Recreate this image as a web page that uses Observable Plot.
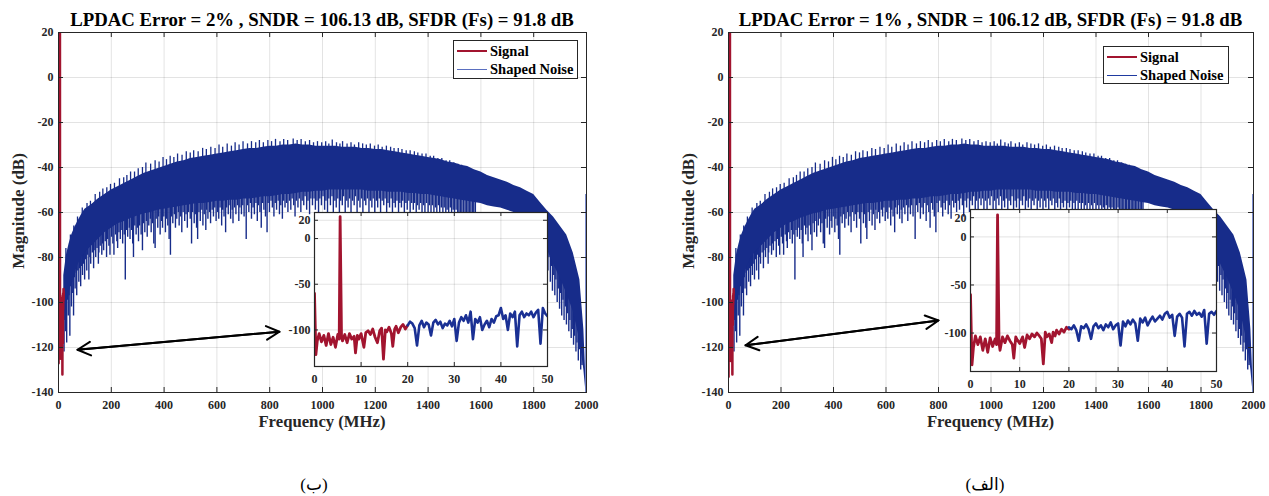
<!DOCTYPE html>
<html>
<head>
<meta charset="utf-8">
<script src="https://cdn.jsdelivr.net/npm/d3@7"></script>
<script src="https://cdn.jsdelivr.net/npm/@observablehq/plot@0.6"></script>
<style>
  body { margin: 0; background: #fff; }
  #root { position: relative; width: 1269px; height: 496px; overflow: hidden; background: #fff;
          font-family: "Liberation Serif", "Times New Roman", serif; color: #000; }
  .abs { position: absolute; white-space: nowrap; }
  .title { font-weight: bold; font-size: 18.8px; line-height: 18px; transform: translateX(-50%); }
  .xlab { font-weight: bold; font-size: 16.7px; line-height: 16px; transform: translate(-50%, -50%); color: #262626; }
  .ylab { font-weight: bold; font-size: 17px; line-height: 16px; transform: translate(-50%, -50%) rotate(-90deg); color: #262626; }
  .cap { font-size: 17px; line-height: 18px; transform: translate(-50%, -50%);
         font-family: "Liberation Serif", "DejaVu Sans", serif; }
  .legend { background: #fff; border: 1px solid #262626; box-sizing: border-box; }
  .lrow { position: absolute; left: 3px; height: 16px; display: flex; align-items: center;
          font-weight: bold; font-size: 14.5px; }
  .lline { width: 30px; margin-right: 3px; }
</style>
</head>
<body>
<div id="root"></div>
<script>
// ---------------- data ----------------
const RED = "#a2142f";
const BLUE = "#172c8a";

const xTicksMain = [0, 200, 400, 600, 800, 1000, 1200, 1400, 1600, 1800, 2000];
const yTicksMain = [20, 0, -20, -40, -60, -80, -100, -120, -140];
const xTicksInset = [0, 10, 20, 30, 40, 50];
const yTicksInset = [20, 0, -50, -100];

// shaped-noise band of the main spectrum (MHz, dB): top and bottom of the dense trace
const noiseFreq = [20,30,40,50,62,75,87,100,125,150,175,200,225,250,275,300,325,350,375,400,425,450,475,500,525,550,575,600,625,650,675,700,725,750,775,800,825,850,875,900,925,950,975,1000,1025,1050,1075,1100,1125,1150,1175,1200,1225,1250,1275,1300,1325,1350,1375,1400,1425,1450,1475,1500,1525,1550,1575,1600,1625,1650,1675,1700,1725,1750,1775,1800,1825,1850,1875,1900,1925,1950,1975,1990,1998];
const noiseTop = [-88,-79,-74,-70,-66.5,-63.5,-61,-58.5,-56.5,-54,-52,-50,-48.5,-47,-45.5,-44,-42.5,-41.5,-40.5,-39.5,-38.5,-37.5,-37,-36,-35.5,-35,-34.5,-34,-33.5,-33,-32.5,-32,-31.5,-31.5,-31,-30.5,-30.5,-30,-30,-29.5,-30,-30,-30.5,-30.5,-30.5,-30.5,-31,-31,-31,-31.5,-31.5,-32,-32,-32.5,-33,-33.5,-34,-34.5,-35,-35.5,-36,-36.5,-37.5,-38,-39,-39.5,-41,-42,-43.5,-44.5,-45.5,-46.5,-48,-49,-50.5,-52,-55.5,-59,-62,-66,-70,-78,-90,-112,-135];
const noiseBottom = [-106,-101,-96,-91,-87,-83,-80,-78,-75,-72,-69,-67,-65,-64,-62.5,-61.5,-60.5,-60,-59,-58.5,-58,-57.5,-57,-56.5,-56,-56,-55.5,-55,-55,-54.5,-54.5,-54,-54,-53.5,-53,-53,-52.5,-52,-52,-51.5,-51,-51,-50.5,-50.5,-50,-50,-50,-50,-50,-50,-50.5,-50.5,-50.5,-51,-51,-51,-51.5,-51.5,-52,-52,-52.5,-53,-53.5,-54,-54.5,-55,-55.5,-56,-57,-57.5,-58,-59,-60,-61.5,-63,-65,-69,-76,-83,-89,-96,-104,-117,-130,-140];

// downward spikes below the dense band: [MHz, dB]
const spikes = [[21,-122],[24,-108],[26,-113],[29,-101],[31,-118],[34,-99],[37,-106],[40,-97],[43,-115],[46,-93],[49,-102],[51,-91],[54,-96],[57,-106],[60,-89],[63,-94],[67,-87],[69,-97],[73,-86],[77,-91],[80,-85],[84,-93],[88,-84],[91,-88],[94,-83],[99,-90],
[103,-81],[107,-86],[110,-79],[115,-90],[119,-80],[122,-83],[128,-78],[133,-85],[135,-77],[141,-80],[146,-76],[151,-83],[153,-78],[158,-75],[164,-79],[167,-74],[171,-77],[177,-73],[182,-80],[186,-72],[191,-75],[195,-79],[201,-71],[206,-74],[210,-79],[216,-70],[221,-73],[224,-76],[229,-69],[234,-72],[240,-68],[243,-74],[249,-70],[253,-90],[257,-68],[262,-71],[268,-67],[271,-72],[277,-68],[281,-74],[284,-80],[289,-66],[294,-70],[299,-67],
[303,-73],[307,-66],[313,-70],[318,-77],[322,-65],[327,-69],[333,-64],[336,-71],[342,-66],[348,-63],[351,-69],[356,-65],[361,-74],[366,-76],[370,-63],[376,-67],[379,-62],[385,-70],[391,-64],[394,-67],[399,-62],[405,-69],[409,-63],[414,-66],[419,-72],[424,-79],[428,-62],[433,-65],[439,-61],[443,-67],[448,-63],[454,-60],[457,-66],[463,-62],[467,-69],[472,-60],[478,-64],[483,-61],[488,-67],[493,-60],[499,-63],[504,-74],[508,-60],[514,-65],[518,-61],[523,-67],[527,-72],[532,-60],[537,-64],[543,-59],[547,-66],[552,-61],[558,-68],[561,-59],[566,-63],[572,-60],[576,-65],[582,-59],[587,-62],[592,-58],[597,-64],
[603,-60],[607,-63],[612,-58],[618,-66],[622,-59],[627,-62],[633,-69],[637,-58],[643,-61],[646,-57],[652,-63],[658,-59],[661,-65],[667,-58],[672,-61],[678,-57],[683,-64],[687,-58],[693,-61],[698,-57],[703,-62],[711,-72],[716,-57],[721,-60],[727,-56],[731,-63],[737,-58],[742,-61],[748,-56],[753,-64],[757,-57],[763,-60],[768,-67],[773,-56],[778,-59],[784,-62],[790,-69],[794,-56],[799,-60],[805,-55],[810,-58],[816,-62],[821,-56],[826,-59],[832,-55],[837,-61],[842,-57],[848,-63],[853,-55],[858,-58],[864,-56],[869,-60],[875,-55],[880,-59],[885,-54],[891,-57],[896,-62],[901,-55],[907,-58],[912,-54],[918,-60],[923,-55],[929,-57],[934,-53],[940,-59],[945,-55],[951,-61],[956,-54],
[962,-57],[968,-54],[973,-59],[979,-55],[985,-61],[990,-54],[996,-57],[1002,-53],[1008,-59],[1013,-55],[1019,-62],[1024,-54],[1030,-57],[1036,-53],[1041,-60],[1047,-55],[1052,-58],[1058,-54],[1064,-61],[1069,-55],[1075,-57],[1080,-53],[1086,-60],[1092,-55],[1097,-58],[1103,-54],[1108,-62],[1114,-55],[1120,-57],[1125,-53],[1131,-60],[1136,-55],[1142,-58],[1148,-54],[1153,-61],[1159,-55],[1164,-57],[1170,-54],[1176,-60],[1181,-55],[1187,-58],[1192,-54],[1198,-62],[1204,-55],[1209,-58],[1215,-54],[1220,-60],[1226,-55],[1232,-57],[1237,-54],[1243,-61],[1248,-56],[1254,-58],[1260,-54],[1265,-60],[1271,-56],[1276,-58],[1282,-55],[1288,-62],[1293,-56],[1299,-58],[1304,-55],[1310,-61],[1316,-56],[1321,-59],[1327,-55],[1332,-62],[1338,-56],[1344,-59],[1349,-56],[1355,-61],[1360,-57],[1366,-59],[1372,-56],[1377,-62],[1383,-57],[1388,-60],[1394,-56],[1400,-61],[1405,-57],[1411,-60],[1416,-57],[1422,-62],[1428,-58],[1433,-60],[1439,-57],[1444,-62],[1450,-58],[1456,-61],[1461,-58],[1467,-62],[1472,-59],[1478,-61],[1484,-58],[1489,-62],[1495,-59],[1500,-61],[1506,-59],[1512,-62],[1517,-60],[1523,-62],[1528,-60],[1534,-63],[1540,-60],[1545,-62],[1551,-61],[1556,-63],[1562,-61],[1568,-63],[1573,-61],[1579,-63],
[1854,-86],[1858,-80],[1863,-91],[1867,-84],[1871,-95],[1876,-88],[1880,-97],[1884,-90],[1889,-100],[1893,-94],[1898,-103],[1902,-96],[1906,-106],[1911,-99],[1915,-108],[1920,-102],[1924,-110],[1928,-105],[1933,-113],[1937,-108],[1942,-116],[1946,-112],[1951,-119],[1955,-115],[1960,-122],[1964,-118],[1969,-126],[1973,-121],[1978,-130],[1983,-128]];

// upward peaks above the dense band: [MHz, dB]
const peaks = [[28,-76],[45,-70],[58,-66],[72,-62],[90,-58],[108,-56],[121,-55],[139,-52],[156,-51],[168,-49.5],[183,-49],[197,-47.5],[212,-47],[231,-45],[247,-44.5],[259,-43.5],[273,-42],[288,-42],[302,-40.5],[318,-40],[331,-38],[349,-38.5],[366,-37],[381,-37.5],[396,-35.5],[409,-36.5],[423,-35],[437,-35.5],[451,-34],[468,-34.5],[484,-33],[499,-33.5],[512,-32.5],[529,-33],[546,-31.5],[560,-32],[577,-31],[593,-31.5],[608,-30],[622,-31],[639,-29.5],[655,-30.5],[669,-29],[684,-30],[699,-28.5],[716,-29.5],[731,-28.5],[747,-29],[761,-28],[776,-29],[793,-28],[807,-28.5],[822,-27.5],[839,-28.5],[853,-27.5],[868,-28],[889,-27.3],[904,-28],[919,-27.5],[935,-28.5],[951,-28],[966,-29],[981,-28.5],[997,-29],[1012,-28.5],[1024,-29.5],[1037,-27.8],[1053,-29],[1066,-29.5],[1076,-28.5],[1093,-29.5],[1108,-29],[1121,-30],[1137,-29],[1152,-29.5],[1166,-30],[1181,-29.5],[1197,-30.5],[1211,-30],[1226,-31],[1242,-30.5],[1258,-31],[1271,-31.5],[1287,-31.5],[1301,-32],[1317,-32.5],[1332,-32.5],[1348,-33],[1361,-33.5],[1377,-34],[1392,-34],[1408,-35],[1421,-35],[1437,-36],[1452,-36],[1468,-37],[1482,-37],[1497,-38],[1513,-38.5],[1527,-39],[1542,-40],[1557,-40.5],[1572,-41.5],[1588,-42],[1603,-43],[1617,-43.5],[1633,-44.5],[1648,-45],[1662,-46],[1678,-46.5],[1693,-47.5],[1708,-48],[1723,-49],[1738,-50],[1753,-50.5],[1768,-52],[1783,-53],[1798,-54],[1813,-55],[1828,-57],[1843,-59],[1858,-61],[1873,-63],[1888,-66],[1903,-68],[1918,-72],[1933,-76],[1948,-81]];

// last bin near Fs/2
const edgeFreq = [1997];
const edgeLevel = [-52];

// signal band 0–20 MHz (inset and main plot), MHz
const sigFreq = [0,0.3,0.6,1,1.5,2,2.5,3,3.5,4,4.5,5,5.3,5.5,5.8,6,6.5,7,7.5,8,8.5,8.8,9.2,9.5,10,10.6,11,11.5,12,12.5,13,13.5,14,14.4,14.8,15.2,15.5,16,16.5,16.8,17.2,17.5,18,18.5,19,19.5,20];
const sigLeft  = [-60,-127,-112,-104,-113,-106,-117,-104,-116,-108,-119,-105,-110,24,-108,-112,-105,-114,-104,-110,-107,-125,-106,-110,-104,-119,-103,-101,-105,-99,-108,-114,-101,-98,-132,-100,-102,-97,-104,-118,-99,-96,-103,-97,-94,-99,-95];
const sigRight = [-60,-133,-115,-103,-112,-104,-118,-106,-120,-105,-114,-106,-112,23,-110,-118,-104,-110,-103,-108,-112,-126,-104,-107,-111,-104,-115,-102,-106,-101,-104,-100,-103,-106,-132,-99,-104,-101,-110,-99,-103,-97,-101,-96,-99,-94,-96];

// shaped noise 20–50 MHz (inset)
const nzFreq = [20,20.5,21,21.5,22,22.5,23,23.5,24,24.5,25,25.5,26,26.5,27,27.5,28,28.5,29,29.5,30,30.5,31,31.5,32,32.5,33,33.5,34,34.5,35,35.5,36,36.5,37,37.5,38,38.5,39,39.5,40,40.5,41,41.5,42,42.5,43,43.5,44,44.5,45,45.5,46,46.5,47,47.5,48,48.5,49,49.5,50];
const nzLeft  = [-95,-91,-93,-98,-117,-95,-90,-97,-92,-94,-106,-92,-89,-94,-91,-98,-93,-95,-90,-96,-88,-112,-92,-86,-90,-84,-92,-80,-110,-88,-92,-86,-100,-94,-90,-97,-88,-92,-85,-84,-76,-88,-84,-100,-82,-86,-80,-118,-84,-80,-86,-82,-84,-80,-86,-81,-78,-115,-76,-82,-85];
const nzRight = [-94,-96,-92,-97,-108,-93,-95,-91,-96,-106,-93,-90,-95,-92,-97,-91,-94,-89,-96,-92,-90,-113,-88,-93,-87,-91,-86,-90,-108,-85,-89,-84,-92,-87,-83,-88,-85,-82,-86,-80,-78,-84,-81,-103,-83,-80,-84,-114,-80,-78,-82,-77,-81,-79,-83,-76,-111,-80,-78,-81,-77];

// double arrow pointing from the low-frequency region to the inset (MHz, dB)
const arrowLeft  = [{x1: 72, y1: -121, x2: 837, y2: -113}];
const arrowRight = [{x1: 65, y1: -119, x2: 800, y2: -108}];

const titles = ["LPDAC Error = 2% , SNDR = 106.13 dB, SFDR (Fs) = 91.8 dB",
                "LPDAC Error = 1% , SNDR = 106.12 dB, SFDR (Fs) = 91.8 dB"];
const captions = ["(ب)", "(الف)"];
const legendLabels = ["Signal", "Shaped Noise"];

// ---------------- drawing ----------------
const FONT = "'Liberation Serif','Times New Roman',serif";
const AX = "#262626";
const bottomAt = d3.scaleLinear(noiseFreq, noiseBottom);
const topAt = d3.scaleLinear(noiseFreq, noiseTop);

function mainPlot(sigV, arrows, width, marginRight) {
  const mt = 32, mb = 48, H = 440;
  const fh = H - mt - mb;
  const fw = width - 58 - marginRight;
  return Plot.plot({
    width, height: H, marginLeft: 58, marginRight, marginTop: mt, marginBottom: mb,
    x: {domain: [0, 2000]},
    y: {domain: [-140, 20]},
    style: {fontFamily: FONT, fontWeight: "bold", fontSize: "12px", color: AX, background: "transparent", overflow: "visible"},
    marks: [
      Plot.gridX(xTicksMain, {stroke: "#000", strokeOpacity: 0.11}),
      Plot.gridY(yTicksMain, {stroke: "#000", strokeOpacity: 0.11}),
      Plot.ruleX(spikes, {x: d => d[0], y1: d => d[1], y2: d => bottomAt(d[0]) + 3, stroke: BLUE, strokeWidth: 1.4, clip: true}),
      Plot.ruleX(peaks, {x: d => d[0], y1: d => topAt(d[0]) - 3, y2: d => d[1], stroke: BLUE, strokeWidth: 1.3, clip: true}),
      Plot.areaY(noiseFreq, {x: noiseFreq, y1: noiseBottom, y2: noiseTop, fill: BLUE, clip: true}),
      Plot.ruleX(edgeFreq, {x: edgeFreq, y1: -140, y2: edgeLevel, stroke: "#5c70c2", strokeWidth: 1}),
      Plot.lineY(sigV, {x: sigFreq, y: sigV, stroke: RED, strokeWidth: 2.5, clip: true}),
      Plot.arrow(arrows, {x1: "x1", y1: "y1", x2: "x2", y2: "y2", stroke: "#000", strokeWidth: 2, headLength: 11, headAngle: 55}),
      Plot.arrow(arrows, {x1: "x2", y1: "y2", x2: "x1", y2: "y1", stroke: "#000", strokeWidth: 2, headLength: 11, headAngle: 55}),
      Plot.frame({stroke: AX, strokeWidth: 1}),
      Plot.tickX(xTicksMain, {x: d => d, insetTop: fh - 5, stroke: AX}),
      Plot.tickX(xTicksMain, {x: d => d, insetBottom: fh - 5, stroke: AX}),
      Plot.tickY(yTicksMain, {y: d => d, insetRight: fw - 5, stroke: AX}),
      Plot.tickY(yTicksMain, {y: d => d, insetLeft: fw - 5, stroke: AX}),
      Plot.axisX(xTicksMain, {tickSize: 0, tickPadding: 8, tickFormat: d => String(d), fill: AX}),
      Plot.axisY(yTicksMain, {tickSize: 0, tickPadding: 5, tickFormat: d => String(d), fill: AX})
    ]
  });
}

function insetPlot(sigV, nzV, fw, fh) {
  const ml = 36, mr = 4, mt = 4, mb = 26;
  return Plot.plot({
    width: ml + fw + mr, height: mt + fh + mb,
    marginLeft: ml, marginRight: mr, marginTop: mt, marginBottom: mb,
    x: {domain: [0, 50]},
    y: {domain: [-140, 28.5]},
    style: {fontFamily: FONT, fontWeight: "bold", fontSize: "12px", color: AX, background: "transparent", overflow: "visible"},
    marks: [
      Plot.frame({fill: "#fff"}),
      Plot.gridX(xTicksInset, {stroke: "#000", strokeOpacity: 0.11}),
      Plot.gridY(yTicksInset, {stroke: "#000", strokeOpacity: 0.11}),
      Plot.lineY(sigV, {x: sigFreq, y: sigV, stroke: RED, strokeWidth: 2.8, clip: true}),
      Plot.lineY(nzV, {x: nzFreq, y: nzV, stroke: "#1a3094", strokeWidth: 2.6, clip: true}),
      Plot.frame({stroke: AX, strokeWidth: 1.2}),
      Plot.tickX(xTicksInset, {x: d => d, insetTop: fh - 4, stroke: AX}),
      Plot.tickX(xTicksInset, {x: d => d, insetBottom: fh - 4, stroke: AX}),
      Plot.tickY(yTicksInset, {y: d => d, insetRight: fw - 4, stroke: AX}),
      Plot.tickY(yTicksInset, {y: d => d, insetLeft: fw - 4, stroke: AX}),
      Plot.axisX(xTicksInset, {tickSize: 0, tickPadding: 8, fill: AX}),
      Plot.axisY(yTicksInset, {tickSize: 0, tickPadding: 4, tickFormat: d => String(d), fill: AX})
    ]
  });
}

const root = document.getElementById("root");
function place(el, left, top) {
  el.style.position = "absolute";
  el.style.left = left + "px";
  el.style.top = top + "px";
  el.style.maxWidth = "none";
  root.appendChild(el);
  return el;
}
function div(cls, text, left, top) {
  const d = document.createElement("div");
  d.className = "abs " + cls;
  d.textContent = text;
  d.style.left = left + "px";
  d.style.top = top + "px";
  root.appendChild(d);
  return d;
}
function legend(left, top, w, h, blueLine) {
  const box = document.createElement("div");
  box.className = "abs legend";
  Object.assign(box.style, {left: left + "px", top: top + "px", width: w + "px", height: h + "px"});
  const rows = [{c: RED, t: 2.6}, {c: blueLine.c, t: blueLine.t}];
  legendLabels.forEach((lab, i) => {
    const r = document.createElement("div");
    r.className = "lrow";
    r.style.top = (2 + i * 18) + "px";
    const ln = document.createElement("div");
    ln.className = "lline";
    ln.style.borderTop = rows[i].t + "px solid " + rows[i].c;
    const tx = document.createElement("span");
    tx.textContent = lab;
    r.appendChild(ln); r.appendChild(tx);
    box.appendChild(r);
  });
  root.appendChild(box);
}

place(mainPlot(sigLeft, arrowLeft, 600, 14), 0, 0);
place(mainPlot(sigRight, arrowRight, 598, 15), 670, 0);
place(insetPlot(sigLeft, nzLeft, 233, 154), 278, 208);
place(insetPlot(sigRight, nzRight, 246, 162), 934, 205);

legend(453, 40, 125, 39, {c: "#5a6fc0", t: 1.5});
legend(1103, 46, 126, 38, {c: "#1f3aa0", t: 1.2});

div("title", titles[0], 322, 11);
div("title", titles[1], 990.5, 11);
div("xlab", "Frequency (MHz)", 322, 422);
div("xlab", "Frequency (MHz)", 990.5, 422);
div("ylab", "Magnitude (dB)", 18.5, 211);
div("ylab", "Magnitude (dB)", 689, 211);
div("cap", captions[0], 314, 485);
div("cap", captions[1], 985, 485);
</script>
</body>
</html>
